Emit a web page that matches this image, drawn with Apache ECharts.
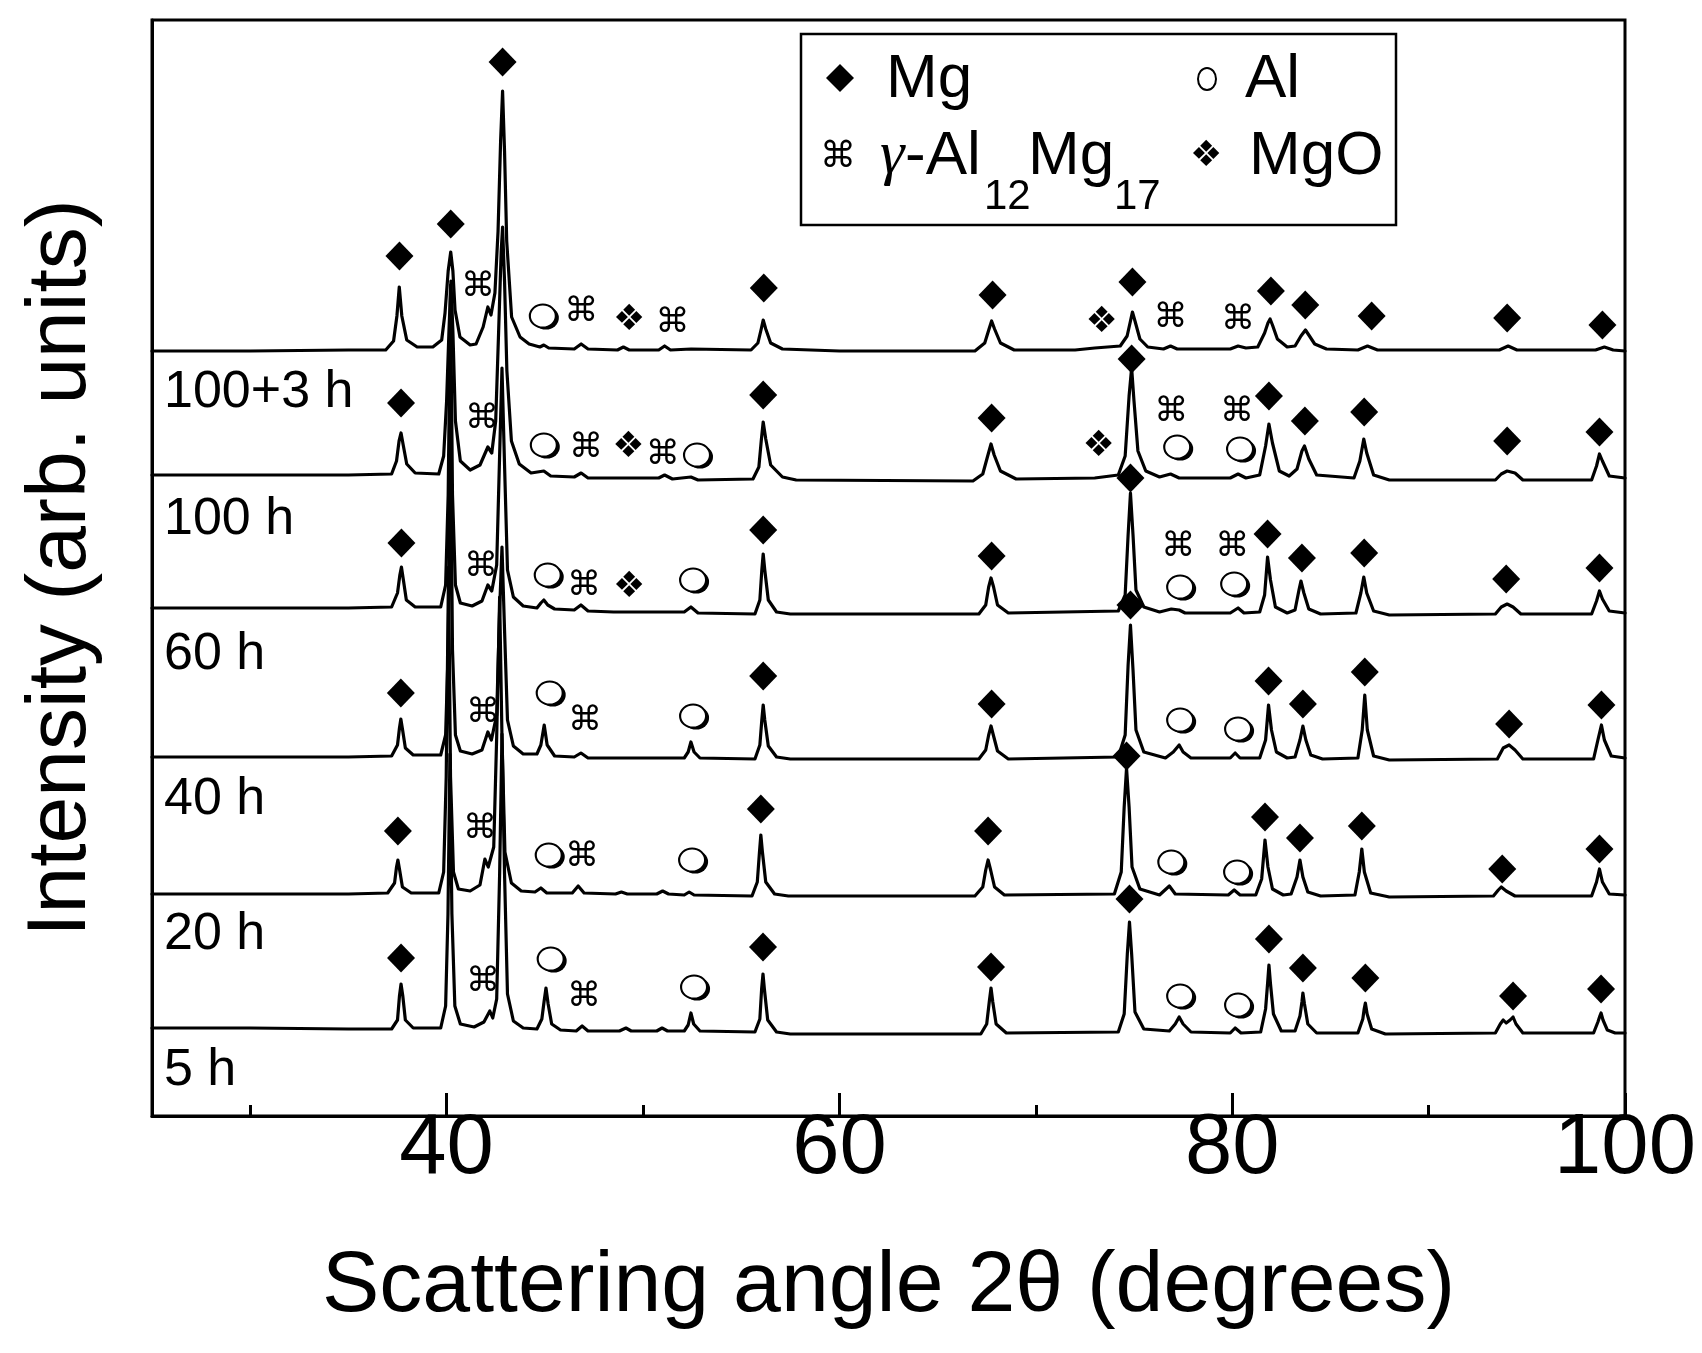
<!DOCTYPE html>
<html><head><meta charset="utf-8">
<script src="https://cdn.jsdelivr.net/npm/echarts@6/dist/echarts.min.js"></script>
<style>html,body{margin:0;padding:0;background:#fff}#c{width:1702px;height:1353px}</style>
</head><body><div id="c"></div>
<script>
// ---- data ----
const xTickLabels = [40, 60, 80, 100];
const xMinorTicks = [30, 50, 70, 90];
const traceNames = ['5 h', '20 h', '40 h', '60 h', '100 h', '100+3 h'];
const traceOffsets = [82, 219, 356, 501, 635, 765];
// each trace: flat list of 2θ, relative intensity pairs
const t5h = [25,6,30,6,35,5,37.2,5,37.5,14,37.6,38,37.68,50,37.77,38,37.9,14,38.3,6,39.7,6,39.95,28,40.07,120,40.17,280,40.27,120,40.42,28,40.7,10,41.4,7,41.9,12,42.2,23,42.35,16,42.55,35,42.7,160,42.82,300,42.95,160,43.1,40,43.4,13,43.9,6,44.6,5,44.85,15,44.96,32,45.06,46,45.17,30,45.35,10,45.8,4,46.6,3,46.9,8,47.2,3,48.8,3,49.13,6,49.4,3,50.7,3,50.97,6,51.25,3,52.1,3,52.3,9,52.44,21,52.58,10,52.9,3,55.7,2,55.95,15,56.04,45,56.11,60,56.18,45,56.35,14,56.8,2,57.5,0,67.2,0,67.5,10,67.63,32,67.72,46,67.81,32,67.98,10,68.5,1,74.2,2,74.5,20,74.66,80,74.77,112,74.88,80,75.05,22,75.5,5,76.8,3,77.1,10,77.3,17,77.5,10,77.9,2,79.9,1,80.15,6,80.45,1,81.45,2,81.7,25,81.8,50,81.87,69,81.95,50,82.1,20,82.5,3,83.2,3,83.45,18,83.55,32,83.6,41,83.68,30,83.85,10,84.3,1,86.4,1,86.65,15,86.72,25,86.78,31,86.87,20,87.1,5,87.8,0,93.4,1,93.65,10,93.8,14,93.95,11,94.15,14,94.3,17,94.45,10,94.8,1,98.4,1,98.62,12,98.72,18,98.78,21,98.88,14,99.1,4,99.5,1,100,1];
const t20h = [25,3,30,3,35,3,37.0,4,37.35,14,37.45,30,37.52,37,37.6,28,37.75,10,38.2,4,39.6,4,39.85,25,39.98,120,40.1,330,40.2,120,40.35,25,40.6,8,41.2,6,41.7,12,41.95,38,42.12,30,42.4,50,42.55,160,42.7,300,42.82,160,42.97,45,43.3,14,43.8,6,44.5,5,44.8,9,45.1,4,46.4,4,46.7,11,47.0,4,48.6,3,48.9,5,49.2,3,50.7,3,51.0,6,51.3,3,52.1,2,52.35,5,52.6,2,55.55,1,55.82,15,55.93,45,56.0,62,56.08,45,56.25,15,56.7,3,57.4,1,66.9,1,67.3,10,67.45,27,67.57,37,67.7,27,67.9,10,68.4,2,74.0,3,74.35,25,74.5,90,74.62,129,74.75,90,74.9,30,75.3,8,76.3,2,76.8,11,77.1,3,79.8,2,80.1,7,80.4,2,81.2,2,81.5,18,81.67,57,81.82,30,82.05,8,82.6,2,83.0,3,83.3,20,83.45,37,83.6,20,83.85,5,84.5,1,86.25,2,86.47,25,86.6,48,86.73,25,87.05,4,88,0,93.3,1,93.55,7,93.7,10,93.95,6,94.4,1,98.3,1,98.55,15,98.7,28,98.85,15,99.2,3,100,2];
const t40h = [25,3,30,3,35,3,37.2,4,37.5,15,37.6,32,37.67,41,37.76,30,37.9,12,38.3,5,39.7,5,39.95,25,40.08,110,40.2,330,40.3,110,40.45,25,40.7,9,41.3,6,41.8,10,42.1,28,42.28,20,42.55,45,42.7,150,42.82,213,42.95,130,43.1,40,43.4,14,43.9,6,44.6,6,44.8,15,44.97,35,45.12,15,45.5,4,46.5,3,46.84,7,47.2,2,49,2,52.1,2,52.3,8,52.44,18,52.6,8,52.9,2,55.7,1,55.95,15,56.05,40,56.12,55,56.2,40,56.38,14,56.8,3,57.5,1,67.1,1,67.45,10,67.6,25,67.72,34,67.85,24,68.05,9,68.6,1,74.2,3,74.55,25,74.7,95,74.82,135,74.95,90,75.1,30,75.5,8,76.6,2,77.0,8,77.3,15,77.5,8,77.9,2,79.9,2,80.15,7,80.4,2,81.4,2,81.7,20,81.85,55,82.0,30,82.25,8,82.8,2,83.2,3,83.45,20,83.6,34,83.75,20,84.0,5,84.6,1,86.4,2,86.62,30,86.75,65,86.88,30,87.2,4,88,0,93.5,1,93.8,12,94.1,15,94.4,10,94.8,1,98.4,1,98.62,20,98.8,35,98.95,20,99.3,4,100,2];
const t60h = [25,7,30,7,35,7,37.2,8,37.5,22,37.62,40,37.7,48,37.8,35,37.95,15,38.4,8,39.7,8,39.95,30,40.08,120,40.2,330,40.3,120,40.45,30,40.7,12,41.3,9,41.8,14,42.1,30,42.3,24,42.55,50,42.7,160,42.82,247,42.95,150,43.1,45,43.4,18,43.9,9,44.6,7,44.8,12,44.95,15,45.15,10,45.5,6,46.5,5,46.84,10,47.2,4,48.5,3,51.1,3,52.1,3,52.44,8,52.8,2,55.7,1,55.95,15,56.05,45,56.12,61,56.2,45,56.38,15,56.8,3,57.5,1,67.1,1,67.45,10,67.6,28,67.72,37,67.85,28,68.05,10,68.6,2,74.2,4,74.55,20,74.7,80,74.82,122,74.95,80,75.1,25,75.5,8,76.3,3,76.9,6,77.3,5,77.6,2,79.9,2,80.3,7,80.6,2,81.4,3,81.65,20,81.8,58,81.95,35,82.2,8,82.8,2,83.2,5,83.4,25,83.5,34,83.65,22,83.9,6,84.5,1,86.3,2,86.55,22,86.7,38,86.85,22,87.2,4,88,0,93.4,1,93.7,8,94.0,11,94.3,8,94.7,1,98.3,1,98.55,14,98.7,24,98.85,16,99.2,4,100,2];
const t100h = [25,6,30,6,35,6,37.2,7,37.45,20,37.58,40,37.68,48,37.8,35,37.97,17,38.4,8,39.6,7,39.85,25,40.0,80,40.12,150,40.22,200,40.32,150,40.45,60,40.7,20,41.2,11,41.7,16,42.1,34,42.3,28,42.5,60,42.65,150,42.78,230,42.85,254,42.95,200,43.07,110,43.3,40,43.7,17,44.3,8,44.95,10,45.3,5,46.5,4,46.85,8,47.2,3,49,3,50.8,3,51.1,6,51.5,2,52.44,4,52.8,1,55.6,2,55.9,14,56.02,40,56.12,59,56.25,42,56.5,16,57.1,4,57.8,1,66.8,0,67.3,7,67.55,25,67.72,37,67.88,26,68.2,10,69,2,73,3,74.2,6,74.55,25,74.75,85,74.88,113,75.0,80,75.2,30,75.6,10,76.3,4,76.86,7,77.3,3,79.9,3,80.3,7,80.7,3,81.4,6,81.7,35,81.87,57,82.05,38,82.4,10,82.9,5,83.3,12,83.55,30,83.68,35,83.9,22,84.3,6,86.2,3,86.5,20,86.7,42,86.85,28,87.2,6,88,1,93.4,1,93.7,7,94.0,10,94.4,8,94.8,1,98.3,1,98.55,15,98.7,27,98.85,20,99.2,5,100,3];
const t100p3h = [25,0,30,0,35,1,36.9,1,37.3,10,37.47,35,37.59,64,37.72,35,37.97,11,38.5,4,39.3,4,39.75,11,39.92,38,40.08,80,40.21,99,40.32,80,40.43,41,40.68,14,41.2,6,41.5,7,41.86,24,42.1,44,42.26,36,42.46,58,42.62,120,42.75,210,42.85,260,42.95,200,43.06,110,43.31,34,43.74,14,44.2,7,44.75,4,44.95,6,45.2,3,46.5,2,46.85,7,47.2,2,48.7,1,49.0,4,49.3,1,50.8,1,51.1,5,51.4,1,52.45,2,55.5,1,55.85,8,56.02,22,56.12,31,56.25,22,56.5,8,57.1,2,60,0,66.9,0,67.4,8,67.62,22,67.75,30,67.9,22,68.2,8,68.9,1,72,1,73.0,3,74.3,5,74.65,15,74.82,30,74.92,39,75.05,30,75.3,12,75.7,4,76.5,2,76.86,5,77.2,2,79.9,2,80.3,5,80.7,3,81.3,4,81.65,18,81.82,28,81.93,32,82.05,26,82.3,12,82.8,4,83.2,5,83.5,15,83.73,21,83.9,16,84.2,7,84.8,2,86.4,1,86.89,5,87.4,1,93.6,1,94.05,5,94.5,1,98.5,1,98.95,4,99.4,1,100,0];
const traces = [t5h, t20h, t40h, t60h, t100h, t100p3h];

// phase marks [2θ, plotted intensity]
const mgMarks = [[37.6,860],[40.21,892],[42.85,1054],[56.15,828],[67.8,821],[74.92,834],[81.97,825],[83.72,811],[87.1,800],[94.0,798],[98.85,791],
  [37.68,713],[56.12,721],[67.75,698],[74.88,757],[81.87,720],[83.7,695],[86.72,704],[94.0,675],[98.7,684],
  [37.7,573],[56.12,586],[67.75,560],[74.82,638],[81.8,582],[83.55,558],[86.72,563],[93.95,537],[98.7,548],
  [37.67,423],[56.12,440],[67.75,412],[74.82,511],[81.85,435],[83.6,412],[86.75,444],[94.1,392],[98.8,411],
  [37.52,285],[56.0,307],[67.57,285],[74.62,360],[81.67,299],[83.45,278],[86.6,290],[93.75,247],[98.7,267],
  [37.68,158],[56.11,169],[67.72,149],[74.77,217],[81.87,177],[83.6,148],[86.78,138],[94.3,120],[98.78,127]];
const gammaMarks = [[41.6,829],[46.85,804],[51.5,793],[76.86,798],[80.3,796],
  [41.8,697],[47.1,668],[51.0,661],[76.9,704],[80.25,704],
  [41.75,549],[47.0,530],[77.25,569],[80.0,569],
  [41.85,403],[47.05,395],
  [41.7,287],[46.9,259],
  [41.85,134],[47.0,119]];
const alMarks = [[44.9,800],
  [44.95,671],[52.75,661],[77.2,669],[80.4,667],
  [45.15,541],[52.55,536],[77.35,529],[80.1,532],
  [45.25,423],[52.55,400],[77.35,396],[80.3,387],
  [45.2,261],[52.5,256],[76.9,254],[80.25,244],
  [45.3,157],[52.6,129],[77.35,120],[80.3,111]];
const mgoMarks = [[49.3,795],[73.35,793],[49.25,668],[73.2,669],[49.3,528]];

// ---- chart ----
const pairs = (a, off) => { const o = []; for (let i = 0; i < a.length; i += 2) o.push([a[i], a[i + 1] + off]); return o; };
const FONT = '"Liberation Sans", Arial, sans-serif';
const SYM = '"DejaVu Sans", sans-serif';

const series = traces.map((t, i) => ({
  type: 'line', name: traceNames[i], data: pairs(t, traceOffsets[i]), xAxisIndex: 0,
  showSymbol: false, symbol: 'none', silent: true, z: 2,
  lineStyle: { color: '#000', width: 3.2, cap: 'round', join: 'round', opacity: 1 }
}));
const txtScatter = (data, ch, size) => ({
  type: 'scatter', data, symbolSize: 1, itemStyle: { color: 'rgba(0,0,0,0)', opacity: 1 }, z: 4, silent: true,
  label: { show: true, position: 'inside', formatter: ch, fontFamily: SYM, fontSize: size, color: '#000' }
});
series.push({ type: 'scatter', data: mgMarks, symbol: 'diamond', symbolSize: [28, 29], itemStyle: { color: '#000', opacity: 1 }, z: 4, silent: true });
series.push({ type: 'scatter', data: alMarks, symbol: 'circle', symbolSize: [26, 23], symbolOffset: [3, 2], itemStyle: { color: '#000', opacity: 1 }, z: 4, silent: true });
series.push({ type: 'scatter', data: alMarks, symbol: 'circle', symbolSize: [26, 23], itemStyle: { color: '#fff', borderColor: '#000', borderWidth: 2, opacity: 1 }, z: 5, silent: true });
series.push(txtScatter(gammaMarks, '⌘', 34));
series.push(txtScatter(mgoMarks, '❖', 36));

const labelYs = [1071, 935, 800, 655, 520, 393];
const graphics = traceNames.map((n, i) => ({
  type: 'text', left: 164, top: labelYs[i] - 26, z: 10,
  style: { text: n, font: '52px ' + FONT, fill: '#000' }
}));
// legend box
graphics.push({ type: 'rect', shape: { x: 801, y: 34, width: 595, height: 191 }, style: { fill: '#fff', stroke: '#000', lineWidth: 2.5 }, z: 20 });
graphics.push({ type: 'polygon', shape: { points: [[826, 78], [840, 64], [854, 78], [840, 92]] }, style: { fill: '#000' }, z: 21 });
graphics.push({ type: 'ellipse', shape: { cx: 1207, cy: 79, rx: 9, ry: 11 }, style: { fill: '#fff', stroke: '#000', lineWidth: 2 }, z: 21 });
const lt = (x, y, text, size, fam, extra) => Object.assign({ type: 'text', x, y, z: 21,
  style: Object.assign({ text, font: size + 'px ' + fam, fill: '#000', textAlign: 'left', textVerticalAlign: 'middle', verticalAlign: 'middle' }, extra || {}) });
graphics.push(lt(886, 80, 'Mg', 62, FONT));
graphics.push(lt(1245, 80, 'Al', 62, FONT));
graphics.push(lt(820, 158, '⌘', 36, SYM));
graphics.push(lt(880, 157, 'γ', 62, '"Liberation Serif", serif', { font: 'italic 62px "Liberation Serif", serif' }));
graphics.push(lt(905, 157, '-Al', 62, FONT));
graphics.push(lt(984, 197, '12', 42, FONT));
graphics.push(lt(1028, 157, 'Mg', 62, FONT));
graphics.push(lt(1114, 197, '17', 42, FONT));
graphics.push(lt(1190, 157, '❖', 36, SYM));
graphics.push(lt(1249, 157, 'MgO', 62, FONT));

const chart = echarts.init(document.getElementById('c'), null, { renderer: 'canvas' });
chart.setOption({
  animation: false,
  backgroundColor: '#fff',
  grid: { left: 152, right: 77, top: 20, bottom: 237, show: true, borderColor: '#000', borderWidth: 3, backgroundColor: 'transparent' },
  xAxis: [{
    type: 'value', min: 25, max: 100, interval: 5,
    name: 'Scattering angle 2θ (degrees)', nameLocation: 'middle', nameGap: 128,
    nameTextStyle: { fontFamily: FONT, fontSize: 86, color: '#000' },
    axisLine: { show: true, lineStyle: { color: '#000', width: 3 } },
    axisTick: { show: true, inside: true, length: 23, lineStyle: { color: '#000', width: 3 }, customValues: xTickLabels },
    axisLabel: { show: true, margin: -9, fontFamily: FONT, fontSize: 85, color: '#000', customValues: xTickLabels },
    splitLine: { show: false }
  }, {
    type: 'value', min: 25, max: 100, interval: 5, position: 'bottom',
    axisLine: { show: false },
    axisTick: { show: true, inside: true, length: 11, lineStyle: { color: '#000', width: 3 }, customValues: xMinorTicks },
    axisLabel: { show: false }, splitLine: { show: false }
  }],
  yAxis: {
    type: 'value', min: 0, max: 1096,
    name: 'Intensity (arb. units)', nameLocation: 'middle', nameGap: 48,
    nameTextStyle: { fontFamily: FONT, fontSize: 84, color: '#000' },
    axisLine: { show: true, lineStyle: { color: '#000', width: 3 } },
    axisTick: { show: false }, axisLabel: { show: false }, splitLine: { show: false }
  },
  series,
  graphic: graphics
});
</script></body></html>
